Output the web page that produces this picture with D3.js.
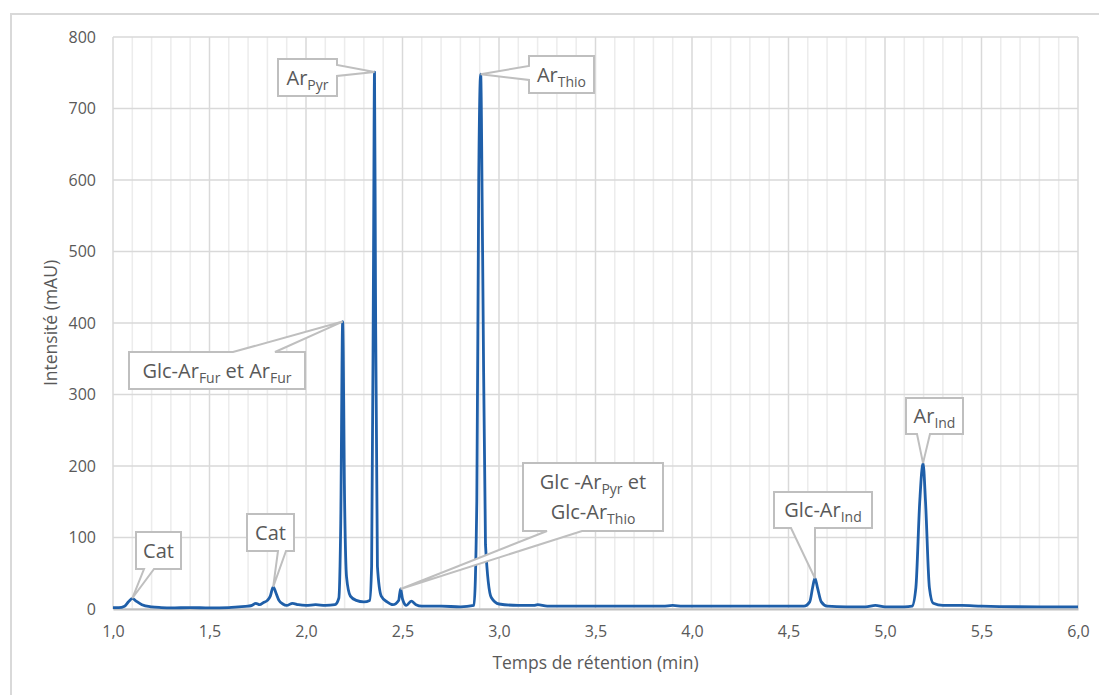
<!DOCTYPE html>
<html><head><meta charset="utf-8">
<script src="https://cdn.jsdelivr.net/npm/d3@7"></script>
<style>
html,body{margin:0;padding:0;background:#fff;}
svg{display:block;font-family:"Open Sans","Noto Sans",sans-serif;}
</style></head>
<body>
<svg id="chart" width="1099" height="695"></svg>
<script>
// ---- data ----
const retentionTime = [1.00,1.03,1.06,1.08,1.10,1.12,1.15,1.20,1.25,1.30,1.40,1.50,1.60,1.65,1.70,1.72,1.74,1.76,1.78,1.80,1.815,1.83,1.845,1.86,1.88,1.90,1.93,1.96,2.00,2.05,2.10,2.15,2.17,2.18,2.19,2.20,2.21,2.23,2.26,2.30,2.33,2.34,2.35,2.355,2.36,2.37,2.39,2.42,2.45,2.48,2.49,2.50,2.52,2.545,2.57,2.60,2.70,2.80,2.87,2.885,2.895,2.905,2.915,2.93,2.96,3.00,3.10,3.18,3.20,3.25,3.50,3.85,3.90,3.95,4.20,4.50,4.58,4.61,4.625,4.637,4.65,4.67,4.70,4.80,4.90,4.95,5.00,5.10,5.14,5.16,5.18,5.197,5.21,5.23,5.25,5.30,5.40,5.50,5.80,6.00];
const intensity = [2,2,4,10,15,11,6,3,2,1.5,2,1.5,2,3,4,5,8,6,9,12,18,31,22,12,7,5,8,6,5,6,5,6,15,120,402,150,45,18,12,10,12,60,500,751,450,60,18,10,6,12,28,14,5,11,6,4,4,3,5,150,600,748,500,90,16,7,5,5,6,4,4,4,5,4,4,4,4,10,30,43,30,10,4,3,3,5,3,3,4,30,150,204,150,30,8,5,5,4,3,3];

const xTickValues = [1.0,1.5,2.0,2.5,3.0,3.5,4.0,4.5,5.0,5.5,6.0];
const yTickValues = [0,100,200,300,400,500,600,700,800];
const xTitle = "Temps de rétention (min)";
const yTitle = "Intensité (mAU)";

// annotation labels: [text, subscript] segments per line; target time & intensity
const annotLabels = [
  {lines:[[["Ar",""],["","Pyr"]]], t:2.355, v:751},
  {lines:[[["Ar",""],["","Thio"]]], t:2.905, v:748},
  {lines:[[["Glc-Ar",""],["","Fur"],[" et Ar",""],["","Fur"]]], t:2.19, v:402},
  {lines:[[["Cat",""]]], t:1.10, v:15},
  {lines:[[["Cat",""]]], t:1.83, v:31},
  {lines:[[["Glc -Ar",""],["","Pyr"],[" et",""]],[["Glc-Ar",""],["","Thio"]]], t:2.49, v:28},
  {lines:[[["Glc-Ar",""],["","Ind"]]], t:4.637, v:43},
  {lines:[[["Ar",""],["","Ind"]]], t:5.197, v:204}
];
// callout layout (box in pixels, wedge side & base)
const annotLayout = [
  {box:[278,59,337,96], side:"right", base:[65,76]},
  {box:[529,56,594,93], side:"left", base:[66,80]},
  {box:[129,352,305,389], side:"top", base:[233,275]},
  {box:[136,532,181,569], side:"bottom", base:[144,154]},
  {box:[247,514,294,551], side:"bottom", base:[278,286]},
  {box:[523,463,663,531], side:"bottom", base:[547,582]},
  {box:[774,492,872,528], side:"bottom", base:[791,815]},
  {box:[906,398,963,434], side:"bottom", base:[917,930]}
];

// ---- layout ----
const svg = d3.select("#chart");
const M = {left:113, right:1078, top:37, bottom:609};
const x = d3.scaleLinear().domain([1,6]).range([M.left, M.right]);
const y = d3.scaleLinear().domain([0,800]).range([M.bottom, M.top]);
const textCol = "#595959";

// outer border
svg.append("rect").attr("x",11).attr("y",14).attr("width",1200).attr("height",800)
  .attr("fill","none").attr("stroke","#d9d9d9").attr("stroke-width",2);

// minor vertical gridlines
const minor = d3.range(10,61).map(d=>d/10).filter(d=>Math.round(d*10)%5!==0);
svg.append("g").selectAll("line").data(minor).join("line")
  .attr("x1",d=>x(d)).attr("x2",d=>x(d)).attr("y1",M.top).attr("y2",M.bottom)
  .attr("stroke","#ececec").attr("stroke-width",1.5);
// major vertical
svg.append("g").selectAll("line").data(xTickValues).join("line")
  .attr("x1",d=>x(d)).attr("x2",d=>x(d)).attr("y1",M.top).attr("y2",M.bottom)
  .attr("stroke","#d9d9d9").attr("stroke-width",1.5);
// horizontal
svg.append("g").selectAll("line").data(yTickValues).join("line")
  .attr("x1",M.left).attr("x2",M.right).attr("y1",d=>y(d)).attr("y2",d=>y(d))
  .attr("stroke","#d9d9d9").attr("stroke-width",1.5);

// axes
const fmt = d3.format(".1f");
const xAxis = svg.append("g").attr("transform",`translate(0,${M.bottom})`)
  .call(d3.axisBottom(x).tickValues(xTickValues).tickSize(0).tickPadding(17)
    .tickFormat(d=>fmt(d).replace(".",",")));
xAxis.select(".domain").attr("stroke","#bfbfbf").attr("stroke-width",2);
xAxis.selectAll("text").attr("fill",textCol).style("font-size","16px")
  .style("font-family","'Open Sans',sans-serif");
const yAxis = svg.append("g").attr("transform",`translate(${M.left},0)`)
  .call(d3.axisLeft(y).tickValues(yTickValues).tickSize(0).tickPadding(17));
yAxis.select(".domain").remove();
yAxis.selectAll("text").attr("fill",textCol).style("font-size","16px")
  .style("font-family","'Open Sans',sans-serif");

// titles
svg.append("text").attr("x",(M.left+M.right)/2).attr("y",669).attr("text-anchor","middle")
  .attr("fill",textCol).style("font-size","17.5px").text(xTitle);
svg.append("text").attr("transform",`translate(57,${(M.top+M.bottom)/2}) rotate(-90)`)
  .attr("text-anchor","middle").attr("fill",textCol).style("font-size","17.5px").text(yTitle);

// trace
const pts = retentionTime.map((t,i)=>[t,intensity[i]]);
svg.append("path").datum(pts)
  .attr("d", d3.line().x(d=>x(d[0])).y(d=>y(d[1])).curve(d3.curveMonotoneX))
  .attr("fill","none").attr("stroke","#1f5fa9").attr("stroke-width",2.8)
  .attr("stroke-linejoin","round");

// callouts
annotLabels.forEach((a,i)=>{
  const L = annotLayout[i];
  const [x0,y0,x1,y1] = L.box;
  const px = x(a.t), py = y(a.v);
  const [b0,b1] = L.base;
  let d;
  if (L.side==="bottom") d = `M${x0},${y0}H${x1}V${y1}H${b1}L${px},${py}L${b0},${y1}H${x0}Z`;
  else if (L.side==="top") d = `M${x0},${y0}H${b0}L${px},${py}L${b1},${y0}H${x1}V${y1}H${x0}Z`;
  else if (L.side==="right") d = `M${x0},${y0}H${x1}V${b0}L${px},${py}L${x1},${b1}V${y1}H${x0}Z`;
  else d = `M${x0},${y0}H${x1}V${y1}H${x0}V${b1}L${px},${py}L${x0},${b0}Z`;
  svg.append("path").attr("d",d).attr("fill","#fff").attr("stroke","#bfbfbf")
    .attr("stroke-width",2).attr("stroke-linejoin","miter");
  const cx = (x0+x1)/2;
  const n = a.lines.length;
  const lh = 30;
  const cy = (y0+y1)/2;
  a.lines.forEach((line,li)=>{
    const ty = cy + (li-(n-1)/2)*lh + 7;
    const txt = svg.append("text").attr("x",cx).attr("y",ty).attr("text-anchor","middle")
      .attr("fill",textCol).style("font-size","20px");
    let shifted = false;
    line.forEach(([main,sub])=>{
      if (main) {
        txt.append("tspan").attr("dy", shifted? -5:0).text(main);
        shifted=false;
      }
      if (sub) {
        txt.append("tspan").attr("dy", shifted?0:5).style("font-size","14px").text(sub);
        shifted=true;
      }
    });
  });
});
</script>
</body></html>
